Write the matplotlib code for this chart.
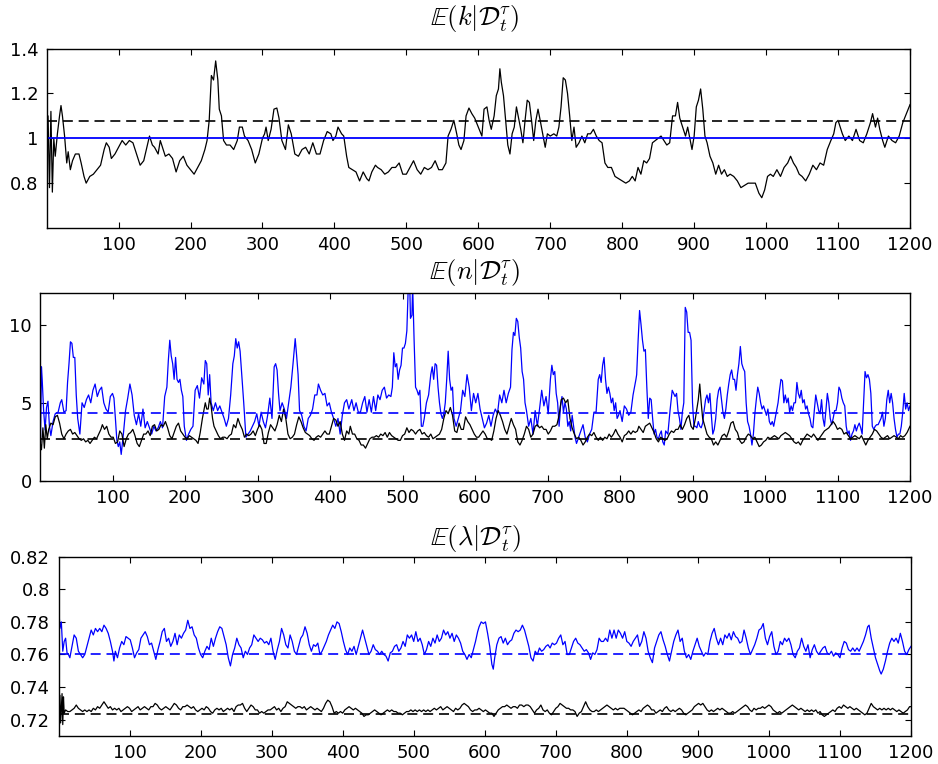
import numpy as np
import matplotlib
matplotlib.use("Agg")
import matplotlib.pyplot as plt

plt.rcParams['font.family'] = ['DejaVu Sans']
plt.rcParams['mathtext.fontset'] = 'cm'

# ---------------- data (t, value) ----------------
K_BLACK = [
 (0,1.0),(2,1.1),(4,0.78),(6,1.12),(8,0.76),(10,1.0),(12,0.92),(15,1.02),(18,1.10),(20,1.146),
 (22,1.10),(25,1.01),(28,0.89),(30,0.94),(33,0.86),(36,0.90),(40,0.93),(45,0.93),(48,0.89),(52,0.83),
 (55,0.80),(60,0.83),(65,0.84),(70,0.86),(75,0.88),(80,0.95),(83,0.98),(87,0.96),(90,0.91),(95,0.93),
 (100,0.96),(105,0.99),(110,0.97),(115,0.99),(120,0.98),(125,0.93),(130,0.88),(135,0.90),(140,0.97),
 (143,1.01),(147,0.97),(150,0.96),(155,0.93),(158,0.99),(162,0.95),(165,0.92),(170,0.93),(175,0.91),
 (180,0.85),(185,0.90),(190,0.92),(195,0.88),(200,0.86),(205,0.84),(210,0.87),(215,0.90),(220,0.95),
 (223,0.99),(226,1.08),(229,1.28),(232,1.26),(235,1.345),(238,1.26),(240,1.13),(243,1.10),(246,0.99),
 (250,0.97),(255,0.97),(260,0.95),(265,0.99),(268,1.05),(272,1.05),(275,1.01),(280,0.99),(285,0.95),
 (290,0.89),(295,0.93),(300,1.00),(303,1.02),(305,1.05),(308,0.99),(312,1.04),(316,1.13),(320,1.135),
 (323,1.09),(327,0.99),(332,0.95),(336,1.06),(340,1.02),(345,0.93),(350,0.92),(355,0.95),(360,0.96),
 (365,0.93),(370,0.98),(375,0.93),(380,0.93),(385,0.99),(390,1.03),(395,1.02),(398,0.99),(402,1.01),
 (405,1.05),(410,1.02),(413,1.01),(417,0.92),(420,0.87),(425,0.86),(430,0.85),(435,0.81),(440,0.85),
 (445,0.82),(448,0.81),(452,0.85),(457,0.88),(460,0.87),(465,0.86),(470,0.84),(475,0.85),(480,0.87),
 (485,0.87),(490,0.89),(495,0.84),(500,0.84),(505,0.87),(510,0.90),(515,0.86),(520,0.84),(525,0.87),
 (530,0.86),(535,0.87),(540,0.90),(545,0.86),(550,0.86),(555,0.89),(558,1.01),(562,1.04),(566,1.08),
 (570,1.02),(573,0.97),(576,0.95),(580,0.99),(583,1.10),(587,1.135),(591,1.11),(595,1.09),(600,1.05),
 (605,1.01),(608,1.13),(612,1.14),(615,1.08),(618,1.04),(622,1.10),(625,1.19),(628,1.22),(630,1.31),
 (632,1.25),(635,1.19),(638,1.08),(641,0.97),(644,0.93),(647,1.02),(650,1.05),(653,1.14),(656,1.09),
 (659,1.04),(662,0.98),(665,1.08),(668,1.17),(671,1.16),(674,1.08),(677,0.99),(680,1.08),(683,1.13),
 (686,1.08),(690,1.01),(693,0.96),(696,1.02),(700,1.01),(705,1.02),(709,1.01),(712,1.05),(715,1.14),
 (718,1.27),(721,1.26),(724,1.20),(727,1.10),(730,0.99),(733,1.05),(736,0.96),(740,0.98),(744,1.01),
 (748,0.98),(752,1.02),(756,1.02),(760,1.04),(764,1.01),(768,0.99),(772,0.98),(776,0.89),(780,0.87),
 (785,0.87),(790,0.83),(795,0.82),(800,0.81),(805,0.80),(810,0.81),(814,0.83),(818,0.81),(822,0.87),
 (826,0.84),(830,0.90),(834,0.89),(838,0.91),(842,0.98),(846,0.99),(850,1.00),(854,1.01),(858,0.99),
 (862,0.97),(866,0.98),(870,1.10),(874,1.10),(877,1.16),(880,1.09),(884,1.05),(888,1.01),(891,1.05),
 (894,1.00),(897,0.95),(900,1.01),(903,1.14),(906,1.17),(909,1.22),(912,1.13),(915,1.01),(918,0.98),
 (922,0.92),(926,0.89),(930,0.84),(934,0.88),(938,0.84),(942,0.86),(946,0.83),(950,0.84),(955,0.83),
 (960,0.81),(965,0.78),(970,0.79),(975,0.80),(980,0.80),(985,0.80),(990,0.755),(994,0.735),(998,0.77),
 (1002,0.83),(1006,0.84),(1010,0.83),(1015,0.86),(1020,0.83),(1025,0.87),(1030,0.89),(1034,0.92),
 (1038,0.89),(1042,0.87),(1046,0.84),(1050,0.83),(1055,0.81),(1060,0.84),(1065,0.88),(1070,0.86),
 (1075,0.89),(1080,0.88),(1085,0.95),(1090,0.99),(1094,1.02),(1097,1.07),(1100,1.08),(1103,1.05),
 (1106,1.02),(1110,0.99),(1115,1.01),(1120,0.99),(1125,1.04),(1130,0.99),(1135,0.98),(1140,1.02),
 (1145,1.07),(1148,1.11),(1152,1.05),(1155,1.09),(1158,1.04),(1162,0.99),(1165,0.96),(1170,1.01),
 (1175,0.99),(1180,0.98),(1185,1.01),(1190,1.07),(1195,1.11),(1200,1.15)]
K_TRUE = 1.0
K_MEAN = 1.075

N_BLUE = [
 (0,0.2),(2,7.3),(3,6.5),(5,4.5),(7,3.26),(9,4.7),(11,5.1),(13,3.5),(15,2.9),(18,3.8),(21,4.3),(25,4.4),
 (28,5.0),(30,5.2),(33,4.4),(36,4.5),(38,6.3),(40,7.5),(42,8.9),(44,8.8),(46,7.9),(48,7.9),(50,5.5),
 (52,4.0),(55,3.0),(58,5.0),(61,4.7),(64,5.2),(67,5.5),(70,5.0),(73,5.8),(76,6.2),(79,5.4),(82,5.8),
 (85,6.0),(88,5.0),(91,4.6),(94,4.4),(97,5.4),(100,5.6),(102,5.3),(104,4.0),(106,2.6),(108,2.2),
 (110,2.5),(112,1.7),(115,3.0),(118,4.5),(121,5.3),(124,6.2),(127,5.5),(130,4.2),(133,3.6),(136,4.3),
 (139,3.5),(142,4.6),(145,3.4),(148,3.8),(151,3.4),(154,3.0),(157,3.5),(160,3.2),(163,3.4),(166,3.8),
 (169,3.4),(172,5.4),(175,6.0),(177,7.7),(179,9.0),(181,8.0),(183,7.5),(185,6.5),(187,7.9),(189,6.5),
 (191,6.3),(193,6.5),(195,5.8),(197,5.4),(199,3.5),(202,2.6),(205,3.0),(208,3.3),(211,3.5),(214,5.8),
 (217,6.1),(220,5.3),(223,6.6),(226,6.2),(228,7.7),(230,7.5),(232,5.5),(234,6.8),(236,5.0),(239,4.5),
 (242,5.0),(245,4.5),(248,4.8),(251,4.4),(254,4.0),(257,3.5),(260,4.0),(263,5.5),(266,7.5),(268,8.0),
 (270,9.1),(272,8.5),(274,8.9),(276,8.3),(278,7.0),(281,5.0),(284,2.8),(287,3.0),(290,3.2),(293,3.5),
 (296,3.8),(299,4.3),(302,3.5),(305,4.4),(308,3.8),(311,3.4),(314,4.2),(317,5.3),(320,4.0),(323,7.3),
 (325,7.5),(327,7.1),(329,5.6),(331,4.5),(334,5.0),(337,4.6),(340,4.0),(343,5.0),(346,6.0),(349,7.5),
 (352,9.1),(354,8.0),(356,6.8),(358,4.5),(361,4.2),(364,3.5),(367,3.2),(370,4.0),(373,4.2),(376,4.6),
 (379,5.5),(382,5.5),(384,6.2),(387,5.8),(390,5.5),(393,5.6),(396,4.8),(399,5.0),(402,4.4),(405,4.0),
 (408,3.5),(411,4.0),(414,3.0),(417,4.2),(420,5.0),(423,5.2),(426,4.6),(430,5.2),(433,4.5),(436,5.0),
 (439,4.4),(442,4.4),(445,5.0),(448,5.4),(451,4.4),(454,5.2),(457,4.4),(460,5.4),(463,4.5),(466,5.5),
 (469,5.2),(472,5.8),(475,6.0),(478,5.3),(481,5.5),(484,5.4),(486,6.0),(488,8.2),(490,7.3),(492,7.5),
 (494,6.5),(496,7.1),(498,7.4),(500,8.5),(502,8.5),(504,8.8),(506,9.6),(508,12.5),(510,12.5),
 (511,10.4),(513,10.6),(514,12.5),(516,9.0),(518,6.0),(520,5.8),(522,5.5),(524,5.8),(526,3.5),
 (528,3.5),(530,4.0),(533,5.0),(536,5.5),(539,6.8),(541,7.3),(543,6.5),(545,7.5),(547,7.4),(549,6.0),
 (551,5.0),(553,4.3),(555,4.0),(557,4.3),(559,5.0),(561,6.5),(563,8.3),(565,6.5),(567,5.8),(569,6.0),
 (571,4.0),(574,3.5),(577,4.0),(580,4.5),(583,5.8),(586,5.4),(589,6.8),(592,6.0),(595,4.5),(598,5.6),
 (601,5.0),(604,5.6),(607,4.6),(610,4.0),(613,3.4),(616,3.7),(619,4.2),(622,3.5),(625,4.2),(628,4.6),
 (631,4.3),(634,5.5),(637,5.0),(640,5.8),(643,5.0),(646,5.6),(649,6.0),(651,8.4),(653,9.5),(655,9.3),
 (657,10.4),(659,10.2),(661,9.2),(663,8.5),(665,7.0),(667,6.5),(669,5.0),(671,4.5),(674,3.5),(677,4.0),
 (680,3.0),(683,4.5),(686,3.5),(689,4.6),(692,5.8),(695,4.8),(698,5.4),(701,4.3),(704,6.5),(706,7.4),
 (708,6.8),(710,7.0),(712,5.6),(714,5.0),(716,3.5),(718,4.8),(720,5.4),(722,4.4),(724,5.0),(726,4.6),
 (728,3.5),(730,3.8),(732,3.2),(734,4.2),(736,3.5),(738,2.8),(740,2.4),(743,2.8),(746,3.2),(749,3.6),
 (752,2.8),(755,2.5),(758,3.0),(761,3.3),(764,4.4),(767,4.4),(770,6.5),(772,6.8),(774,6.3),(776,7.4),
 (778,7.9),(780,6.5),(782,5.6),(784,6.0),(786,5.6),(788,5.0),(790,5.3),(792,4.5),(794,5.0),(796,4.0),
 (798,4.2),(800,4.5),(803,3.8),(806,4.8),(809,4.6),(812,4.2),(815,4.4),(818,5.5),(820,6.0),(822,6.5),
 (823,6.8),(825,9.0),(827,10.9),(829,10.0),(831,9.0),(833,8.3),(835,8.4),(837,6.0),(839,4.0),(841,5.3),
 (843,5.2),(845,4.0),(847,3.0),(849,3.3),(851,2.8),(853,2.7),(855,3.0),(857,3.2),(859,2.5),(861,2.3),
 (863,3.2),(866,3.0),(869,4.5),(872,5.8),(874,5.6),(876,5.4),(878,5.6),(880,4.5),(882,4.0),(884,3.3),
 (886,4.4),(888,5.0),(890,11.1),(892,10.8),(894,9.5),(896,9.5),(898,9.0),(900,5.0),(902,3.5),(904,3.5),
 (906,3.4),(908,3.8),(910,3.5),(912,3.4),(914,3.7),(916,4.5),(918,5.2),(920,5.5),(922,5.0),(924,5.6),
 (926,4.2),(928,3.0),(930,3.3),(932,4.0),(934,5.2),(936,5.8),(938,6.0),(940,5.2),(942,4.4),(944,4.0),
 (946,4.6),(948,5.5),(950,6.2),(952,6.8),(954,7.1),(956,6.5),(958,6.5),(960,5.8),(962,6.8),(964,7.5),
 (966,8.6),(968,7.5),(970,7.2),(972,7.0),(974,5.0),(976,3.8),(978,3.5),(980,3.0),(982,2.3),(984,3.0),
 (986,4.3),(988,5.2),(990,6.0),(992,5.6),(994,5.0),(996,4.6),(998,4.8),(1000,4.5),(1002,4.2),
 (1004,4.6),(1006,3.8),(1008,3.6),(1010,3.8),(1012,3.5),(1014,4.0),(1016,4.5),(1018,5.0),(1020,5.8),
 (1022,6.5),(1024,6.4),(1026,5.0),(1028,5.5),(1030,5.0),(1032,5.3),(1034,4.4),(1036,4.8),(1038,4.5),
 (1040,5.0),(1042,5.0),(1044,6.3),(1046,5.6),(1048,5.3),(1050,5.8),(1052,5.0),(1054,5.2),(1056,4.6),
 (1058,4.8),(1060,4.3),(1062,4.0),(1064,3.5),(1066,3.4),(1068,4.5),(1070,5.5),(1072,5.0),(1074,4.5),
 (1076,4.3),(1078,5.2),(1080,4.0),(1082,3.5),(1084,4.5),(1086,5.6),(1088,5.0),(1090,4.0),(1092,3.6),
 (1094,4.0),(1096,4.5),(1098,4.5),(1100,5.0),(1102,6.0),(1104,5.8),(1106,5.3),(1108,5.0),(1110,4.8),
 (1112,3.5),(1114,3.0),(1116,3.2),(1118,2.6),(1120,3.0),(1122,3.2),(1124,3.6),(1126,3.2),(1128,3.5),
 (1130,3.7),(1132,3.4),(1134,3.0),(1136,5.0),(1138,7.0),(1140,6.6),(1142,6.8),(1144,6.5),(1146,5.6),
 (1148,3.5),(1150,3.3),(1152,3.5),(1154,3.6),(1156,3.6),(1158,3.8),(1160,4.0),(1162,4.4),(1164,3.5),
 (1166,4.0),(1168,5.2),(1170,5.8),(1172,5.0),(1174,5.6),(1176,5.0),(1178,4.0),(1180,3.3),(1182,2.8),
 (1184,3.0),(1186,3.0),(1188,3.5),(1190,4.4),(1192,5.6),(1194,4.6),(1196,5.0),(1198,4.5),(1200,4.8)]

N_BLACK = [
 (0,2.5),(2,2.0),(4,3.4),(6,2.1),(8,3.6),(10,2.7),(12,3.3),(15,3.7),(18,3.6),(21,4.1),(24,4.2),(27,3.7),
 (30,3.0),(33,2.7),(36,3.0),(39,3.2),(42,3.3),(45,3.0),(48,3.1),(51,2.9),(54,2.7),(57,2.6),(60,2.7),
 (63,2.5),(66,2.6),(69,2.4),(72,2.6),(75,2.8),(78,2.7),(81,3.0),(84,3.3),(86,3.6),(89,3.3),(92,3.5),
 (95,3.0),(98,2.8),(101,2.8),(104,2.4),(107,2.5),(110,3.2),(113,3.0),(116,2.2),(119,2.7),(122,3.0),
 (125,3.1),(128,3.3),(131,2.9),(134,2.4),(137,2.2),(140,2.6),(143,3.0),(146,3.0),(149,3.2),(152,2.9),
 (155,3.5),(158,3.6),(161,3.2),(164,3.3),(167,3.6),(170,3.5),(173,3.8),(176,3.4),(179,2.9),(182,2.7),
 (185,3.1),(188,3.5),(191,3.7),(194,3.2),(197,3.0),(200,2.8),(203,2.7),(206,2.9),(209,2.8),(212,2.7),
 (215,2.6),(218,2.4),(221,3.1),(224,4.0),(226,4.5),(228,5.0),(230,4.6),(232,4.6),(234,5.3),(236,4.8),
 (238,4.0),(240,3.5),(243,3.2),(246,2.9),(249,2.7),(252,2.8),(255,2.8),(258,2.7),(261,2.9),(264,3.0),
 (267,3.6),(270,3.4),(273,4.0),(276,3.6),(279,3.3),(282,2.8),(285,3.0),(288,2.9),(291,3.0),(294,3.2),
 (297,2.9),(300,3.3),(303,3.6),(306,3.3),(309,2.4),(312,2.4),(315,3.1),(318,3.6),(321,3.4),(324,3.2),
 (327,3.6),(330,4.2),(333,3.8),(336,4.6),(339,4.0),(342,3.0),(345,2.7),(348,2.8),(351,3.0),(354,3.6),
 (357,4.1),(360,3.8),(363,3.4),(366,3.1),(369,3.0),(372,2.9),(375,2.7),(378,2.6),(381,2.8),(384,2.9),
 (387,2.8),(390,3.0),(393,3.2),(396,3.0),(399,3.0),(402,3.5),(405,4.0),(408,3.9),(411,3.5),(414,3.8),
 (417,3.0),(420,2.6),(423,3.2),(426,3.0),(428,3.5),(431,3.0),(434,3.0),(437,2.7),(440,2.6),(443,2.3),
 (446,2.3),(449,2.1),(452,2.4),(455,2.7),(458,2.8),(461,2.8),(464,2.9),(467,2.8),(470,3.0),(473,2.9),
 (476,3.1),(479,2.8),(482,3.1),(485,2.9),(488,2.8),(491,2.7),(494,2.6),(497,2.6),(500,2.9),(503,3.0),
 (506,3.4),(509,3.1),(512,3.3),(515,3.2),(518,3.0),(521,3.2),(524,3.3),(527,3.0),(530,3.1),(533,2.9),
 (536,2.8),(539,3.0),(542,2.7),(545,2.8),(548,2.9),(551,3.0),(554,3.3),(557,4.0),(560,4.5),(563,4.3),
 (566,4.7),(569,4.2),(572,3.2),(575,3.1),(578,3.7),(581,3.3),(584,3.3),(587,4.1),(590,3.8),(593,3.6),
 (596,3.3),(599,3.0),(602,2.8),(605,2.8),(608,3.0),(611,3.2),(614,3.0),(617,2.7),(620,2.7),(623,2.6),
 (626,3.2),(629,4.0),(632,4.5),(635,4.2),(638,3.8),(641,3.3),(644,3.0),(647,3.5),(650,4.0),(653,3.6),
 (656,3.3),(659,2.5),(662,2.3),(665,2.6),(668,3.0),(671,3.5),(674,3.3),(677,2.8),(680,3.0),(683,3.5),
 (686,3.6),(689,3.4),(692,3.5),(695,3.3),(698,3.3),(701,3.0),(704,3.2),(707,3.5),(710,3.5),(713,3.6),
 (716,4.2),(719,5.2),(722,5.3),(725,5.0),(728,5.2),(731,4.0),(734,3.4),(737,3.0),(740,2.7),(743,2.8),
 (746,2.6),(749,2.3),(752,2.5),(755,2.8),(758,3.0),(761,2.9),(764,3.1),(767,2.8),(770,2.6),(773,2.8),
 (776,2.6),(779,2.8),(782,2.7),(785,3.0),(788,2.8),(791,3.0),(794,3.3),(797,3.0),(800,2.8),(803,2.5),
 (806,2.9),(809,3.0),(812,3.2),(815,3.0),(818,3.2),(821,3.1),(824,3.2),(826,3.5),(829,3.3),(832,3.1),
 (835,3.5),(838,3.6),(841,3.7),(844,3.4),(847,3.1),(850,2.7),(853,2.5),(856,2.8),(859,2.7),(862,2.6),
 (865,2.7),(868,3.0),(871,3.2),(874,3.1),(877,3.3),(880,3.3),(883,3.6),(886,3.3),(889,3.6),(892,4.0),
 (895,4.2),(898,3.5),(901,3.3),(904,4.0),(906,4.6),(908,5.2),(910,6.2),(912,5.0),(914,4.0),(917,3.5),
 (920,3.0),(923,2.8),(926,2.7),(929,2.3),(932,2.5),(935,2.3),(938,2.6),(941,2.9),(944,3.0),(947,2.8),
 (950,3.2),(953,3.7),(956,3.8),(959,3.3),(962,3.1),(965,2.6),(968,2.4),(971,2.5),(974,2.8),(977,3.0),
 (980,2.9),(983,2.7),(986,2.8),(989,2.5),(992,2.2),(995,2.3),(998,2.5),(1001,2.6),(1004,2.8),(1007,2.7),
 (1010,2.8),(1013,2.9),(1016,2.8),(1019,2.7),(1022,2.9),(1025,3.0),(1028,3.1),(1031,3.0),(1034,2.9),
 (1037,2.7),(1040,2.5),(1043,2.4),(1046,2.5),(1049,2.3),(1052,2.6),(1055,2.8),(1058,3.0),(1061,2.9),
 (1064,2.8),(1067,3.0),(1070,2.8),(1073,2.6),(1076,2.8),(1079,3.0),(1082,3.2),(1085,3.3),(1088,3.4),
 (1091,3.6),(1094,3.8),(1097,3.6),(1100,3.3),(1103,3.4),(1106,3.3),(1109,3.0),(1112,3.1),(1115,2.9),
 (1118,2.7),(1121,2.8),(1124,2.9),(1127,2.8),(1130,2.7),(1133,2.9),(1136,2.6),(1139,2.3),(1142,2.6),
 (1145,2.8),(1148,3.0),(1151,3.3),(1154,3.2),(1157,3.0),(1160,2.8),(1163,2.7),(1166,2.8),(1169,2.9),
 (1172,2.7),(1175,2.8),(1178,2.9),(1181,2.8),(1184,2.7),(1187,2.9),(1190,2.8),(1193,2.9),(1196,3.1),
 (1198,3.3),(1200,3.5)]
N_BLUE_MEAN = 4.34
N_BLACK_MEAN = 2.70

L_BLUE = [
 (0,0.71),(1,0.784),(2,0.776),(4,0.78),(6,0.762),(8,0.768),(10,0.77),(12,0.761),(14,0.76),(16,0.758),
 (19,0.765),(22,0.772),(25,0.770),(28,0.762),(31,0.760),(34,0.758),(37,0.760),(40,0.765),(43,0.770),
 (46,0.775),(49,0.772),(52,0.776),(55,0.774),(58,0.776),(61,0.774),(64,0.778),(67,0.776),(70,0.773),
 (73,0.768),(76,0.762),(78,0.756),(80,0.762),(83,0.758),(86,0.764),(89,0.768),(92,0.766),(95,0.771),
 (98,0.770),(101,0.769),(104,0.764),(107,0.758),(110,0.761),(113,0.763),(116,0.770),(119,0.772),
 (122,0.774),(125,0.771),(128,0.766),(131,0.767),(134,0.762),(137,0.757),(140,0.763),(143,0.768),
 (146,0.774),(149,0.776),(152,0.768),(155,0.770),(158,0.765),(161,0.768),(164,0.773),(167,0.766),
 (170,0.772),(173,0.770),(176,0.773),(179,0.775),(182,0.781),(185,0.776),(188,0.777),(191,0.772),
 (194,0.770),(197,0.764),(200,0.760),(203,0.758),(206,0.762),(209,0.765),(212,0.763),(215,0.770),
 (218,0.765),(221,0.770),(224,0.774),(227,0.777),(230,0.776),(233,0.771),(236,0.766),(239,0.758),
 (242,0.753),(245,0.760),(248,0.764),(251,0.770),(254,0.766),(257,0.764),(260,0.758),(263,0.762),
 (266,0.760),(269,0.764),(272,0.766),(275,0.772),(278,0.770),(281,0.768),(284,0.770),(287,0.769),
 (290,0.767),(293,0.768),(296,0.766),(299,0.770),(302,0.762),(305,0.757),(308,0.763),(311,0.768),
 (314,0.776),(317,0.772),(320,0.766),(323,0.764),(326,0.772),(329,0.768),(332,0.762),(335,0.760),
 (338,0.765),(341,0.770),(344,0.772),(347,0.777),(350,0.773),(353,0.766),(356,0.762),(359,0.766),
 (362,0.765),(365,0.767),(368,0.760),(371,0.762),(374,0.765),(377,0.768),(380,0.772),(383,0.775),
 (386,0.778),(389,0.776),(392,0.780),(395,0.779),(398,0.774),(401,0.768),(404,0.763),(407,0.760),
 (410,0.764),(413,0.762),(416,0.765),(419,0.760),(422,0.765),(425,0.770),(428,0.775),(431,0.770),
 (434,0.765),(437,0.760),(440,0.762),(443,0.766),(446,0.763),(449,0.762),(452,0.760),(455,0.762),
 (458,0.760),(461,0.759),(464,0.756),(467,0.761),(470,0.762),(473,0.765),(476,0.766),(479,0.762),
 (482,0.764),(485,0.768),(488,0.765),(491,0.772),(494,0.770),(497,0.772),(500,0.768),(503,0.774),
 (506,0.768),(509,0.770),(512,0.766),(515,0.760),(518,0.763),(521,0.768),(524,0.765),(527,0.770),
 (530,0.767),(533,0.772),(536,0.768),(539,0.770),(542,0.775),(545,0.772),(548,0.774),(551,0.770),
 (554,0.773),(557,0.768),(560,0.772),(563,0.770),(566,0.767),(569,0.762),(572,0.760),(575,0.757),
 (578,0.760),(581,0.758),(584,0.763),(587,0.768),(590,0.774),(592,0.777),(595,0.780),(598,0.779),
 (601,0.780),(604,0.773),(607,0.765),(610,0.754),(612,0.751),(614,0.758),(617,0.766),(620,0.770),
 (623,0.771),(626,0.767),(629,0.770),(632,0.766),(635,0.768),(638,0.769),(641,0.773),(644,0.775),
 (647,0.774),(650,0.775),(653,0.778),(656,0.775),(659,0.770),(662,0.765),(665,0.758),(668,0.756),
 (671,0.762),(674,0.760),(677,0.764),(680,0.762),(683,0.763),(686,0.765),(689,0.766),(692,0.764),
 (695,0.767),(698,0.766),(701,0.767),(704,0.770),(707,0.772),(710,0.766),(713,0.768),(716,0.760),
 (719,0.760),(722,0.764),(725,0.768),(728,0.770),(731,0.767),(734,0.766),(737,0.764),(740,0.762),
 (743,0.763),(746,0.761),(749,0.757),(752,0.761),(755,0.760),(758,0.763),(761,0.770),(764,0.768),
 (767,0.768),(770,0.770),(773,0.768),(776,0.775),(779,0.770),(782,0.775),(785,0.770),(788,0.775),
 (791,0.773),(794,0.770),(797,0.774),(800,0.768),(803,0.767),(806,0.765),(809,0.768),(812,0.770),
 (815,0.772),(818,0.765),(821,0.768),(824,0.774),(827,0.770),(830,0.762),(833,0.758),(836,0.755),
 (839,0.764),(842,0.768),(845,0.772),(848,0.774),(851,0.769),(854,0.765),(857,0.760),(860,0.756),
 (863,0.762),(866,0.768),(869,0.772),(872,0.775),(875,0.768),(878,0.770),(881,0.762),(884,0.758),
 (887,0.760),(890,0.757),(893,0.762),(896,0.766),(899,0.770),(902,0.765),(905,0.762),(908,0.759),
 (911,0.761),(914,0.760),(917,0.768),(920,0.773),(923,0.776),(926,0.770),(929,0.766),(932,0.770),
 (935,0.766),(938,0.772),(941,0.770),(944,0.773),(947,0.769),(950,0.774),(953,0.771),(956,0.770),
 (959,0.767),(962,0.768),(965,0.775),(968,0.770),(971,0.764),(974,0.760),(977,0.763),(980,0.766),
 (983,0.770),(986,0.775),(989,0.776),(992,0.779),(995,0.770),(998,0.766),(1001,0.771),(1004,0.774),
 (1007,0.765),(1010,0.760),(1013,0.762),(1016,0.768),(1019,0.766),(1022,0.770),(1025,0.768),
 (1028,0.770),(1031,0.766),(1034,0.760),(1037,0.758),(1040,0.762),(1043,0.764),(1046,0.770),
 (1049,0.765),(1052,0.762),(1055,0.766),(1058,0.758),(1061,0.763),(1064,0.766),(1067,0.762),
 (1070,0.760),(1073,0.762),(1076,0.764),(1079,0.765),(1082,0.761),(1085,0.760),(1088,0.762),
 (1091,0.759),(1094,0.761),(1097,0.760),(1100,0.758),(1103,0.764),(1106,0.768),(1109,0.767),
 (1112,0.763),(1115,0.762),(1118,0.764),(1121,0.762),(1124,0.764),(1127,0.762),(1130,0.765),
 (1133,0.768),(1136,0.772),(1139,0.777),(1141,0.778),(1144,0.770),(1147,0.764),(1150,0.758),
 (1153,0.754),(1156,0.750),(1158,0.748),(1161,0.751),(1164,0.756),(1167,0.762),(1170,0.767),
 (1173,0.770),(1176,0.768),(1179,0.770),(1182,0.767),(1185,0.773),(1188,0.768),(1191,0.762),
 (1194,0.760),(1197,0.763),(1200,0.765)]

L_BLACK = [
 (0,0.723),(2,0.735),(3,0.718),(5,0.736),(6,0.717),(7,0.734),(8,0.724),(10,0.726),(13,0.725),(16,0.725),
 (19,0.726),(22,0.727),(25,0.729),(28,0.727),(31,0.726),(34,0.725),(37,0.726),(40,0.725),(43,0.726),
 (46,0.725),(49,0.727),(52,0.726),(55,0.728),(58,0.727),(61,0.729),(64,0.731),(67,0.729),(70,0.727),
 (73,0.728),(76,0.726),(79,0.727),(82,0.726),(85,0.727),(88,0.725),(91,0.726),(94,0.727),(97,0.728),
 (100,0.727),(103,0.725),(106,0.726),(109,0.727),(112,0.728),(115,0.726),(118,0.727),(121,0.728),
 (124,0.727),(127,0.726),(130,0.728),(133,0.728),(136,0.730),(139,0.729),(142,0.727),(145,0.726),
 (148,0.727),(151,0.728),(154,0.727),(157,0.726),(160,0.728),(163,0.730),(166,0.729),(169,0.727),
 (172,0.726),(175,0.728),(178,0.728),(181,0.729),(184,0.728),(187,0.727),(190,0.728),(193,0.726),
 (196,0.725),(199,0.726),(202,0.727),(205,0.726),(208,0.728),(211,0.727),(214,0.725),(217,0.724),
 (220,0.726),(223,0.727),(226,0.726),(229,0.727),(232,0.725),(235,0.726),(238,0.727),(241,0.726),
 (244,0.727),(247,0.725),(250,0.728),(253,0.729),(256,0.729),(259,0.730),(262,0.727),(265,0.725),
 (268,0.727),(271,0.729),(274,0.728),(277,0.726),(280,0.726),(283,0.724),(286,0.725),(289,0.724),
 (292,0.725),(295,0.726),(298,0.726),(301,0.727),(304,0.728),(307,0.726),(310,0.727),(313,0.725),
 (316,0.727),(319,0.728),(322,0.731),(325,0.730),(328,0.729),(331,0.728),(334,0.727),(337,0.728),
 (340,0.728),(343,0.727),(346,0.728),(349,0.726),(352,0.727),(355,0.728),(358,0.727),(361,0.726),
 (364,0.727),(367,0.726),(370,0.725),(373,0.727),(376,0.730),(379,0.732),(382,0.731),(385,0.728),
 (388,0.724),(391,0.725),(394,0.724),(397,0.725),(400,0.724),(403,0.726),(406,0.727),(409,0.728),
 (412,0.727),(415,0.726),(418,0.727),(421,0.726),(424,0.725),(427,0.724),(430,0.722),(433,0.723),
 (436,0.723),(439,0.724),(442,0.725),(445,0.726),(448,0.725),(451,0.724),(454,0.723),(457,0.724),
 (460,0.725),(463,0.726),(466,0.725),(469,0.726),(472,0.725),(475,0.725),(478,0.724),(481,0.724),
 (484,0.723),(487,0.724),(490,0.725),(493,0.725),(496,0.726),(499,0.725),(502,0.726),(505,0.725),
 (508,0.726),(511,0.725),(514,0.726),(517,0.725),(520,0.726),(523,0.725),(526,0.726),(529,0.727),
 (532,0.726),(535,0.727),(538,0.728),(541,0.726),(544,0.727),(547,0.728),(550,0.727),(553,0.726),
 (556,0.725),(559,0.727),(562,0.726),(565,0.727),(568,0.729),(571,0.730),(574,0.729),(577,0.728),
 (580,0.726),(583,0.725),(586,0.726),(589,0.726),(592,0.727),(595,0.726),(598,0.725),(601,0.726),
 (604,0.725),(607,0.724),(610,0.724),(613,0.722),(616,0.724),(619,0.726),(622,0.727),(625,0.728),
 (628,0.728),(631,0.729),(634,0.728),(637,0.727),(640,0.728),(643,0.728),(646,0.727),(649,0.729),
 (652,0.729),(655,0.728),(658,0.729),(661,0.729),(664,0.728),(667,0.726),(670,0.724),(673,0.726),
 (676,0.727),(679,0.729),(682,0.726),(685,0.725),(688,0.726),(691,0.724),(694,0.723),(697,0.725),
 (700,0.727),(703,0.728),(706,0.730),(709,0.729),(712,0.728),(715,0.727),(718,0.727),(721,0.726),
 (724,0.726),(727,0.725),(730,0.722),(733,0.724),(736,0.725),(739,0.728),(742,0.731),(745,0.728),
 (748,0.726),(751,0.725),(754,0.725),(757,0.726),(760,0.725),(763,0.726),(766,0.727),(769,0.728),
 (772,0.729),(775,0.728),(778,0.727),(781,0.726),(784,0.727),(787,0.726),(790,0.727),(793,0.727),
 (796,0.727),(799,0.726),(802,0.725),(805,0.724),(808,0.723),(811,0.724),(814,0.725),(817,0.726),
 (820,0.725),(823,0.727),(826,0.728),(829,0.729),(832,0.728),(835,0.726),(838,0.726),(841,0.724),
 (844,0.725),(847,0.726),(850,0.725),(853,0.727),(856,0.728),(859,0.726),(862,0.725),(865,0.726),
 (868,0.725),(871,0.726),(874,0.727),(877,0.726),(880,0.724),(883,0.723),(886,0.724),(889,0.725),
 (892,0.726),(895,0.728),(898,0.729),(901,0.730),(904,0.729),(907,0.730),(910,0.728),(913,0.726),
 (916,0.725),(919,0.726),(922,0.725),(925,0.726),(928,0.727),(931,0.726),(934,0.727),(937,0.726),
 (940,0.725),(943,0.724),(946,0.724),(949,0.725),(952,0.724),(955,0.725),(958,0.726),(961,0.727),
 (964,0.728),(967,0.729),(970,0.728),(973,0.726),(976,0.725),(979,0.727),(982,0.726),(985,0.727),
 (988,0.727),(991,0.728),(994,0.727),(997,0.728),(1000,0.729),(1003,0.728),(1006,0.726),(1009,0.725),
 (1012,0.724),(1015,0.725),(1018,0.724),(1021,0.725),(1024,0.726),(1027,0.727),(1030,0.728),
 (1033,0.729),(1036,0.728),(1039,0.727),(1042,0.726),(1045,0.727),(1048,0.726),(1051,0.725),
 (1054,0.726),(1057,0.725),(1060,0.726),(1063,0.725),(1066,0.726),(1069,0.724),(1072,0.725),
 (1075,0.723),(1078,0.722),(1081,0.723),(1084,0.724),(1087,0.725),(1090,0.726),(1093,0.725),
 (1096,0.727),(1099,0.728),(1102,0.727),(1105,0.729),(1108,0.728),(1111,0.727),(1114,0.728),
 (1117,0.727),(1120,0.726),(1123,0.727),(1126,0.726),(1129,0.725),(1132,0.724),(1135,0.723),
 (1138,0.724),(1141,0.727),(1144,0.730),(1147,0.728),(1150,0.727),(1153,0.726),(1156,0.727),
 (1159,0.726),(1162,0.727),(1165,0.726),(1168,0.727),(1171,0.726),(1174,0.727),(1177,0.726),
 (1180,0.725),(1183,0.726),(1186,0.725),(1189,0.724),(1192,0.725),(1195,0.726),(1198,0.728),
 (1200,0.728)]
L_BLUE_MEAN = 0.760
L_BLACK_MEAN = 0.7232

TITLES = [r'$\mathbb{E}(k|\mathcal{D}_t^\tau)$',
          r'$\mathbb{E}(n|\mathcal{D}_t^\tau)$',
          r'$\mathbb{E}(\lambda|\mathcal{D}_t^\tau)$']
X_TICKS = list(range(100, 1201, 100))

# ---------------- figure ----------------
W, H = 938, 764
fig = plt.figure(figsize=(W / 100, H / 100), dpi=100)

def rect(l, t, r, b):
    return [l / W, 1 - b / H, (r - l) / W, (b - t) / H]

ax1 = fig.add_axes(rect(46.6, 48.6, 910, 228))
ax2 = fig.add_axes(rect(40, 293.3, 910, 481))
ax3 = fig.add_axes(rect(58.5, 556.7, 911, 736))

BLUE = '#0000ff'
DASH = (0, (6, 3.5))

def xy(series):
    a = np.array(series, dtype=float)
    return a[:, 0], a[:, 1]

def style(ax, yticks, ylabels):
    ax.set_xlim(0, 1200)
    ax.set_xticks(X_TICKS)
    ax.set_xticklabels([str(v) for v in X_TICKS])
    ax.set_yticks(yticks)
    ax.set_yticklabels(ylabels)
    ax.tick_params(direction='in', length=4.5, width=0.8, top=True, right=True,
                   labelsize=13, pad=6)
    for s in ax.spines.values():
        s.set_linewidth(1.0)

# panel 1
t, v = xy(K_BLACK)
ax1.plot(t, v, color='black', lw=0.9)
ax1.axhline(K_TRUE, color=BLUE, lw=1.3)
ax1.axhline(K_MEAN, color='black', lw=1.2, linestyle=DASH)
ax1.set_ylim(0.6, 1.4)
style(ax1, [0.8, 1.0, 1.2, 1.4], ['0.8', '1', '1.2', '1.4'])

# panel 2
t, v = xy(N_BLUE)
ax2.plot(t, v, color=BLUE, lw=0.9)
t, v = xy(N_BLACK)
ax2.plot(t, v, color='black', lw=0.9)
ax2.axhline(N_BLUE_MEAN, color=BLUE, lw=1.2, linestyle=DASH)
ax2.axhline(N_BLACK_MEAN, color='black', lw=1.2, linestyle=DASH)
ax2.set_ylim(0, 12)
style(ax2, [0, 5, 10], ['0', '5', '10'])

# panel 3
t, v = xy(L_BLUE)
ax3.plot(t, v, color=BLUE, lw=0.9)
t, v = xy(L_BLACK)
ax3.plot(t, v, color='black', lw=0.9)
ax3.axhline(L_BLUE_MEAN, color=BLUE, lw=1.2, linestyle=DASH)
ax3.axhline(L_BLACK_MEAN, color='black', lw=1.2, linestyle=DASH)
ax3.set_ylim(0.71, 0.82)
yt = [0.72, 0.74, 0.76, 0.78, 0.80, 0.82]
style(ax3, yt, ['0.72', '0.74', '0.76', '0.78', '0.8', '0.82'])

for ypix, txt in zip([18, 273, 539], TITLES):
    fig.text(475 / W, 1 - ypix / H, txt, ha='center', va='center', fontsize=19)

fig.savefig('out.png', dpi=100)
